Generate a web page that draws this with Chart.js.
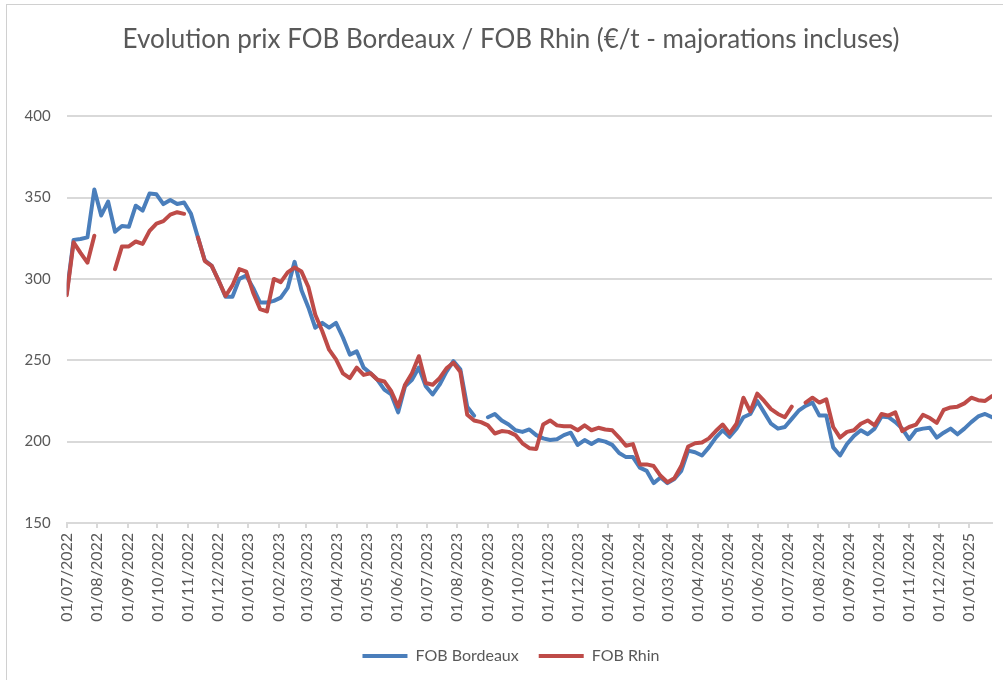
<!DOCTYPE html>
<html lang="fr">
<head>
  <meta charset="UTF-8">
  <title>Evolution prix FOB Bordeaux / FOB Rhin</title>
  <script src="https://cdn.jsdelivr.net/npm/chart.js"></script>
  <style>
    html, body { margin: 0; padding: 0; background: #fff; overflow: hidden; }
    .frame { position: absolute; left: 6px; top: 4px; width: 1100px; height: 800px;
             border-left: 1px solid #d0d0d0; border-top: 1px solid #d0d0d0; }
    .chart { position: absolute; left: 0; top: 0; }
  </style>
</head>
<body>
<div class="frame"></div>
<!-- canvas a bit wider than the window: the Excel chart it copies is cut on the right -->
<div class="chart"><canvas id="myCanvas" width="1016" height="680"></canvas></div>
<script>
  // weekly prices (€/t), first week = 01/07/2022, null = no quote
  const startDate = '01/07/2022';
  const bordeaux = [
    291, 324, 324.5, 325.5, 355, 339, 347.5, 329, 332.5, 332,
    345, 342, 352.5, 352, 346, 348.5, 346, 347, 340, 325.5,
    311.5, 308, 299, 289, 289, 300, 302, 294.5, 285.5, 285.5,
    286.5, 288.5, 294.5, 310.5, 293, 282.5, 270, 273, 270, 273,
    264, 253.5, 255.5, 245.5, 242, 238, 232, 229, 218, 234,
    238, 245.5, 234, 229, 235, 243, 249.5, 244.5, 221.5, 216,
    null, 215, 217, 213, 210.5, 207, 206, 207.5, 204, 202,
    201, 201.5, 204, 205.5, 198, 201, 198.5, 201, 200, 198,
    193, 190.5, 190.5, 184, 182, 174.5, 178, 174.5, 177, 182,
    194.5, 193.5, 191.5, 196.5, 202.5, 207, 203, 208, 215, 217,
    225, 218, 211, 208, 209, 214, 219, 222, 224, 216,
    216, 196.5, 191.5, 198.5, 203.5, 207, 204.5, 208, 215.5, 215,
    212, 208, 201.5, 207, 208, 208.5, 202.5, 205.5, 208, 204.5,
    208, 212, 215.5, 217, 215
  ];
  const rhin = [
    290, 322.5, 316, 310, 326.5, null, null, 306, 320, 320,
    323, 321.5, 329.5, 334, 335.5, 339.5, 341, 340, null, 325.5,
    311, 308, 299, 289.5, 296, 306, 304.5, 291.5, 281.5, 280,
    300, 298, 304, 307, 304.5, 295, 278, 268, 256.5, 250.5,
    242, 239, 245.5, 241, 242, 238, 237, 231, 221.5, 235,
    242, 252.5, 236, 235, 239, 245, 248.5, 243, 216.5, 213,
    212, 210, 205, 206.5, 206, 204, 199, 196, 195.5, 210.5,
    213, 210, 209.5, 209.5, 207, 210, 207, 208.5, 207.5, 207,
    202.5, 197.5, 198.5, 186, 186, 185, 179, 175, 177.5, 185,
    197, 199, 199.5, 202, 206.5, 210.5, 205, 211, 227, 218.5,
    229.5, 225, 220, 217, 215, 221.5, null, 224, 227, 224,
    226, 209, 202.5, 206, 207, 211, 213, 210, 217, 216,
    218, 206.5, 209, 210.5, 216.5, 214.5, 211.5, 219.5, 221, 221.5,
    223.5, 227, 225.5, 225, 228
  ];
  const monthTicks = [
    '01/07/2022', '01/08/2022', '01/09/2022', '01/10/2022', '01/11/2022', '01/12/2022',
    '01/01/2023', '01/02/2023', '01/03/2023', '01/04/2023', '01/05/2023', '01/06/2023',
    '01/07/2023', '01/08/2023', '01/09/2023', '01/10/2023', '01/11/2023', '01/12/2023',
    '01/01/2024', '01/02/2024', '01/03/2024', '01/04/2024', '01/05/2024', '01/06/2024',
    '01/07/2024', '01/08/2024', '01/09/2024', '01/10/2024', '01/11/2024', '01/12/2024',
    '01/01/2025'
  ];
  const yTicks = [150, 200, 250, 300, 350, 400];

  const FONT = 'Lato';
  const GREY = '#595959';
  const GRID = '#d9d9d9';

  function toUTC(s) {
    const [d, m, y] = s.split('/').map(Number);
    return Date.UTC(y, m - 1, d);
  }
  // x axis in days since the first week
  function dayOf(s) { return (toUTC(s) - toUTC(startDate)) / 86400000; }

  const tickDays = monthTicks.map(dayOf);
  const toPoints = arr => arr.map((v, i) => ({ x: i * 7, y: v }));
  const lastDay = (bordeaux.length - 1) * 7;

  new Chart(document.getElementById('myCanvas'), {
    type: 'line',
    data: {
      datasets: [{
        label: 'FOB Bordeaux',
        data: toPoints(bordeaux),
        borderColor: '#4a7ebb',
        backgroundColor: '#4a7ebb',
        order: 1
      }, {
        label: 'FOB Rhin',
        data: toPoints(rhin),
        borderColor: '#be4b48',
        backgroundColor: '#be4b48',
        order: 0
      }]
    },
    options: {
      responsive: false,
      animation: false,
      parsing: false,
      spanGaps: false,
      elements: {
        line: { borderWidth: 4, tension: 0, borderCapStyle: 'round', borderJoinStyle: 'round' },
        point: { radius: 0, hoverRadius: 0 }
      },
      layout: { padding: { left: 6, right: 0, top: 0, bottom: 6 } },
      scales: {
        x: {
          type: 'linear',
          min: 0,
          max: lastDay,
          afterBuildTicks: scale => { scale.ticks = tickDays.map(v => ({ value: v })); },
          afterFit: scale => { scale.height = 105; },
          ticks: {
            autoSkip: false,
            minRotation: 90,
            maxRotation: 90,
            padding: 5,
            color: GREY,
            font: { family: FONT, size: 16 },
            callback: v => monthTicks[tickDays.indexOf(v)]
          },
          grid: { drawOnChartArea: false, drawTicks: true, tickLength: 5, color: GRID, lineWidth: 2 },
          border: { display: true, color: GRID, width: 2 }
        },
        y: {
          min: 150,
          max: 400,
          afterBuildTicks: scale => { scale.ticks = yTicks.map(v => ({ value: v })); },
          afterFit: scale => { scale.width = 60.7; },
          ticks: { padding: 16, color: GREY, font: { family: FONT, size: 15 } },
          grid: { drawTicks: false, color: GRID, lineWidth: 2 },
          border: { display: false }
        },
        // empty right-hand box, so the plot ends at x = 992
        yRight: {
          position: 'right',
          afterFit: scale => { scale.width = 24; },
          ticks: { display: false },
          grid: { display: false },
          border: { display: false }
        }
      },
      plugins: {
        title: {
          display: true,
          text: 'Evolution prix FOB Bordeaux / FOB Rhin (€/t - majorations incluses)',
          color: GREY,
          font: { family: FONT, size: 26, weight: 'normal' },
          padding: { top: 24, bottom: 61 }
        },
        legend: {
          position: 'bottom',
          labels: {
            color: GREY,
            font: { family: FONT, size: 16 },
            boxWidth: 45,
            boxHeight: 4,
            padding: 20,
            sort: (a, b) => a.datasetIndex - b.datasetIndex,
            generateLabels: chart => Chart.defaults.plugins.legend.labels.generateLabels(chart)
              .map(item => ({ ...item, lineWidth: 0, fillStyle: item.strokeStyle }))
          }
        },
        tooltip: { enabled: false }
      }
    }
  });
</script>
</body>
</html>
